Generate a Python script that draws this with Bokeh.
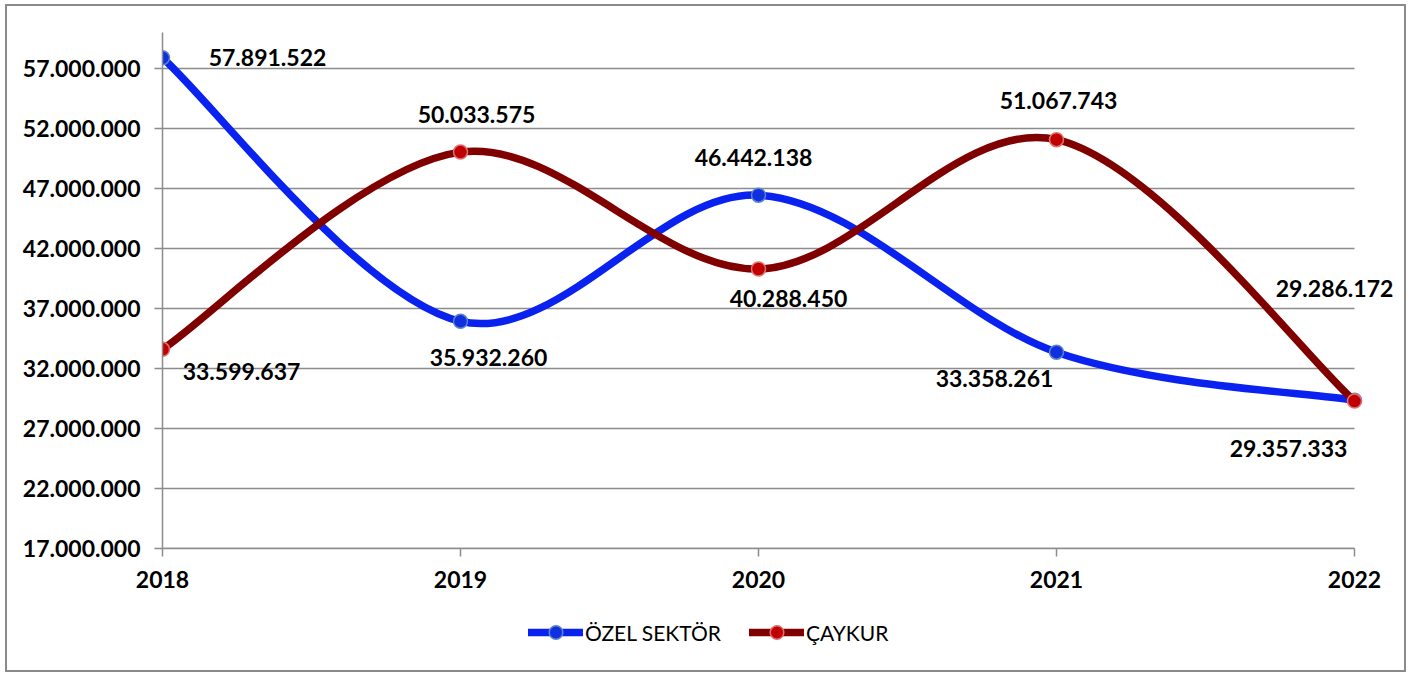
from bokeh.plotting import figure
from bokeh.models import FixedTicker, Legend, LegendItem, ColumnDataSource
from bokeh.layouts import column
from bokeh.core.properties import value
from bokeh.embed import file_html
from bokeh.resources import INLINE

years = [2018, 2019, 2020, 2021, 2022]
ozel = [57891522, 35932260, 46442138, 33358261, 29357333]
caykur = [33599637, 50033575, 40288450, 51067743, 29286172]
y_ticks = [17000000, 22000000, 27000000, 32000000, 37000000, 42000000, 47000000, 52000000, 57000000]
names = ["ÖZEL SEKTÖR", "ÇAYKUR"]

# label offsets in screen px (style only)
ozel_off = [(105, 0), (28, 36), (-5, -38), (-62, 26), (-66, 48)]
caykur_off = [(79, 22), (16, -38), (30, 29), (2, -39), (-20, -113)]

FONT = "Lato"
GRID = "#8c8c8c"
BLUE = "#0A22F0"
RED = "#800000"

def tr(v):
    return f"{v:,}".replace(",", ".")

def smooth(xs, ys):
    n = len(xs)
    seg = dict(x0=[], y0=[], x1=[], y1=[], cx0=[], cy0=[], cx1=[], cy1=[])
    for i in range(n - 1):
        xm, ym = (xs[i - 1], ys[i - 1]) if i > 0 else (xs[i], ys[i])
        xp, yp = (xs[i + 2], ys[i + 2]) if i + 2 < n else (xs[i + 1], ys[i + 1])
        seg["x0"].append(xs[i]); seg["y0"].append(ys[i])
        seg["x1"].append(xs[i + 1]); seg["y1"].append(ys[i + 1])
        seg["cx0"].append(xs[i] + (xs[i + 1] - xm) / 6)
        seg["cy0"].append(ys[i] + (ys[i + 1] - ym) / 6)
        seg["cx1"].append(xs[i + 1] - (xp - xs[i]) / 6)
        seg["cy1"].append(ys[i + 1] - (yp - ys[i]) / 6)
    return ColumnDataSource(seg)

x_end = years[-1] + 44 / 298  # extra room right of last category for labels

p = figure(width=1397, height=598, x_range=(years[0], x_end), y_range=(17000000, 60000000),
           output_backend="svg", toolbar_location=None,
           min_border_left=155, min_border_right=6, min_border_top=26, min_border_bottom=56)
p.outline_line_color = None
p.background_fill_color = "white"
p.border_fill_color = "white"

p.xgrid.grid_line_color = None
p.ygrid.grid_line_color = None
p.segment(x0=[years[0]] * len(y_ticks), x1=[years[-1]] * len(y_ticks), y0=y_ticks, y1=y_ticks,
          line_color=GRID, line_width=1.5)

p.yaxis.ticker = FixedTicker(ticks=y_ticks)
p.yaxis.major_label_overrides = {t: tr(t) for t in y_ticks}
p.xaxis.ticker = FixedTicker(ticks=years)
p.xaxis.major_label_overrides = {y: str(y) for y in years}
p.xaxis.bounds = (years[0], years[-1])
for ax in (p.xaxis, p.yaxis):
    ax.axis_line_color = GRID
    ax.axis_line_width = 1.5
    ax.major_tick_line_color = GRID
    ax.major_tick_line_width = 1.5
    ax.major_tick_out = 8
    ax.major_tick_in = 0
    ax.minor_tick_line_color = None
    ax.major_label_text_font = FONT
    ax.major_label_text_font_style = "bold"
    ax.major_label_text_font_size = "23px"
    ax.major_label_text_color = "black"
p.yaxis.major_label_standoff = 14
p.xaxis.major_label_standoff = 14

series = [
    (ozel, BLUE, "#1030E0", "#5B86C8", ozel_off),
    (caykur, RED, "#C00000", "#E07070", caykur_off),
]
for (vals, lc, mf, mo, offs) in series:
    src = smooth(years, vals)
    p.bezier(x0="x0", y0="y0", x1="x1", y1="y1", cx0="cx0", cy0="cy0", cx1="cx1", cy1="cy1",
             source=src, line_color=lc, line_width=7.5, line_cap="round", line_join="round")
    p.scatter(years, vals, size=14, fill_color=mf, line_color=mo, line_width=1.5)
for (vals, lc, mf, mo, offs) in series:
    p.text(x=years, y=vals, text=[tr(v) for v in vals],
           x_offset=[o[0] for o in offs], y_offset=[o[1] for o in offs],
           text_align="center", text_baseline="middle",
           text_font=value(FONT), text_font_style="bold", text_font_size="23px", text_color="black")

# legend strip below the chart (its frame is aligned with the chart's frame)
lf = figure(width=1397, height=66, x_range=(0, 1), y_range=(0, 1),
            output_backend="svg", toolbar_location=None,
            min_border=0, x_axis_location=None, y_axis_location=None)
lf.grid.grid_line_color = None
lf.outline_line_color = None
lf.background_fill_color = "white"
lf.border_fill_color = "white"
items = []
for (vals, lc, mf, mo, offs), name in zip(series, names):
    # legend-only renderers, their points lie outside the visible range
    l = lf.line(x=[-5, -4], y=[-5, -5], line_color=lc, line_width=7.5, line_cap="round")
    s = lf.scatter(x=[-5], y=[-5], size=14, fill_color=mf, line_color=mo, line_width=1.5)
    items.append(LegendItem(label=name, renderers=[l, s]))
legend = Legend(items=items, orientation="horizontal", location=(366, 21),
                border_line_color=None, background_fill_alpha=0,
                padding=0, margin=0, spacing=28, glyph_width=55, glyph_height=34,
                label_height=34, label_standoff=2,
                label_text_font=FONT, label_text_font_size="21px", label_text_color="black")
lf.add_layout(legend, "center")

layout = column(p, lf, spacing=0,
                styles={"outline": "2px solid #8a8a8a",
                        "margin-left": "7px", "margin-top": "6px"})

open("out.html", "w").write(file_html(layout, INLINE))
